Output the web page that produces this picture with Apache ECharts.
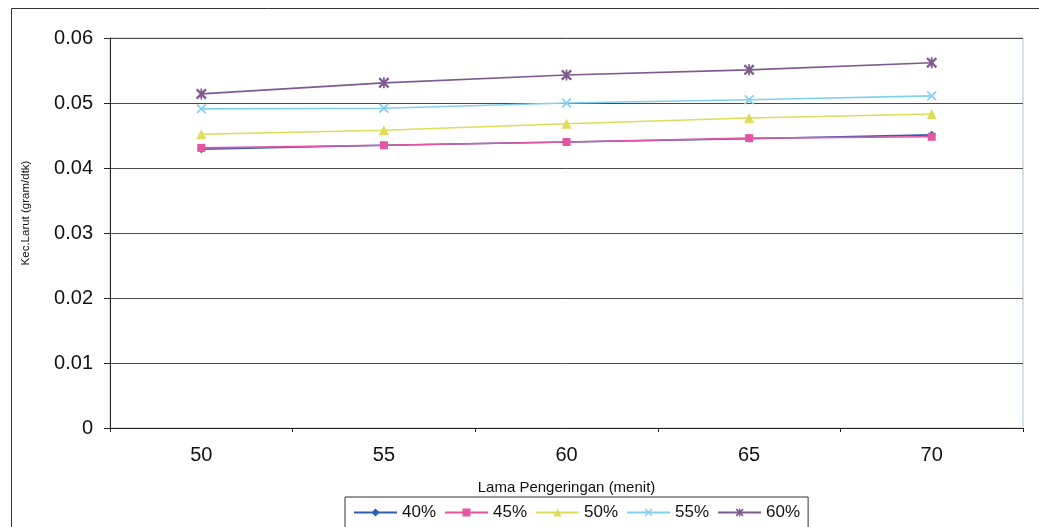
<!DOCTYPE html>
<html>
<head>
<meta charset="utf-8">
<script src="https://cdn.jsdelivr.net/npm/echarts@6/dist/echarts.min.js"></script>
<style>
html,body{margin:0;padding:0;background:#fff;}
#chart{width:1039px;height:527px;}
</style>
</head>
<body>
<div id="chart"></div>
<script>
const categories = ['50', '55', '60', '65', '70'];
const s40 = [0.0429, 0.0435, 0.0440, 0.0445, 0.0451];
const s45 = [0.0431, 0.0435, 0.0440, 0.0446, 0.0448];
const s50 = [0.0452, 0.0458, 0.0468, 0.0477, 0.0483];
const s55 = [0.0491, 0.0492, 0.0500, 0.0505, 0.0511];
const s60 = [0.0514, 0.0531, 0.0543, 0.0551, 0.0562];
const seriesNames = ['40%', '45%', '50%', '55%', '60%'];

const X_PATH = 'path://M0,1.2 L1.2,0 L5,3.8 L8.8,0 L10,1.2 L6.2,5 L10,8.8 L8.8,10 L5,6.2 L1.2,10 L0,8.8 L3.8,5 Z';
const STAR_PATH = 'path://M0,1.5 L1.5,0 L5,3.5 L8.5,0 L10,1.5 L6.5,5 L10,8.5 L8.5,10 L5,6.5 L1.5,10 L0,8.5 L3.5,5 Z M4.2,0 L5.8,0 L5.8,10 L4.2,10 Z';

const colors = ['#2b5fb4', '#e256a4', '#dedc58', '#80d0ef', '#7f5a90'];
const symbols = ['diamond', 'rect', 'triangle', X_PATH, STAR_PATH];
const sizes = [8, 8, 10, 10, 11];
const dataSets = [s40, s45, s50, s55, s60];

const FONT = 'Liberation Sans, Arial, sans-serif';

const chart = echarts.init(document.getElementById('chart'));
chart.setOption({
  animation: false,
  backgroundColor: '#fff',
  graphic: [{
    type: 'rect',
    shape: {x: 11.5, y: 8.5, width: 1040, height: 530},
    style: {fill: 'none', stroke: '#333', lineWidth: 1}
  }],
  grid: {
    left: 110, top: 38, width: 913, height: 390,
    show: true, borderColor: '#a9c4d6', borderWidth: 1, backgroundColor: 'transparent'
  },
  legend: {
    data: seriesNames,
    left: 345, top: 497,
    itemWidth: 43, itemHeight: 10, itemGap: 8,
    padding: [7, 8, 12, 8],
    borderColor: '#333', borderWidth: 1,
    textStyle: {fontFamily: FONT, fontSize: 17, color: '#111'}
  },
  xAxis: {
    type: 'category',
    data: categories,
    boundaryGap: true,
    name: 'Lama Pengeringan (menit)',
    nameLocation: 'middle',
    nameGap: 52,
    nameTextStyle: {fontFamily: FONT, fontSize: 15, color: '#111'},
    axisLine: {lineStyle: {color: '#222', width: 1}},
    axisTick: {show: true, length: 4, alignWithLabel: false, lineStyle: {color: '#222'}},
    axisLabel: {fontFamily: FONT, fontSize: 20, color: '#111', margin: 17}
  },
  yAxis: {
    type: 'value',
    min: 0, max: 0.06, interval: 0.01,
    name: 'Kec.Larut (gram/dtk)',
    nameLocation: 'middle',
    nameGap: 78,
    nameTextStyle: {fontFamily: FONT, fontSize: 11.5, color: '#111', padding: [0, 0, 0, 40]},
    axisLine: {show: true, lineStyle: {color: '#222', width: 1}},
    axisTick: {show: true, length: 6, lineStyle: {color: '#222'}},
    axisLabel: {fontFamily: FONT, fontSize: 20, color: '#111', margin: 17,
      formatter: v => (v === 0 ? '0' : v.toFixed(2))},
    splitLine: {show: true, lineStyle: {color: '#4a4a4a', width: 1}}
  },
  series: dataSets.map((d, i) => ({
    name: seriesNames[i],
    type: 'line',
    data: d,
    symbol: symbols[i],
    symbolSize: sizes[i],
    showAllSymbol: true,
    lineStyle: {color: colors[i], width: 1.6},
    itemStyle: {color: colors[i]},
    emphasis: {disabled: true}
  }))
});
</script>
</body>
</html>
